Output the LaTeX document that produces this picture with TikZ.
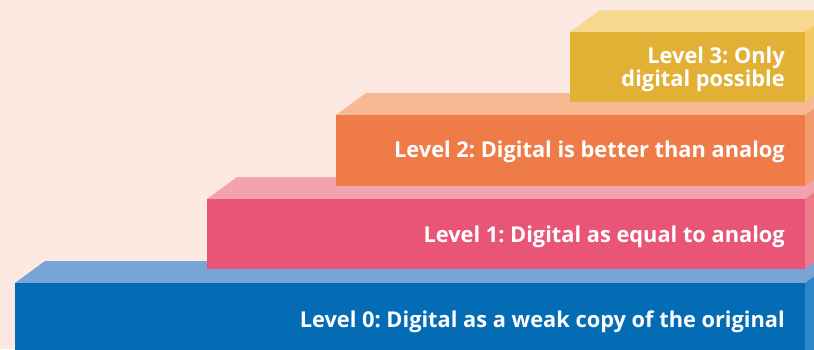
\documentclass[tikz,border=0pt]{standalone}
\usepackage{fontspec}
\setmainfont{Open Sans}
\frenchspacing
\definecolor{bg}{HTML}{FCE9E1}
\definecolor{zf}{HTML}{046BB5}\definecolor{zt}{HTML}{78A4D6}\definecolor{zs}{HTML}{2F86CB}
\definecolor{of}{HTML}{E95576}\definecolor{ot}{HTML}{F3A3AD}\definecolor{os}{HTML}{EE7A8A}
\definecolor{tf}{HTML}{EF7C48}\definecolor{tt}{HTML}{F8B891}\definecolor{ts}{HTML}{F39A6E}
\definecolor{hf}{HTML}{E1B035}\definecolor{ht}{HTML}{F6D88F}\definecolor{hs}{HTML}{F4C961}
\newcommand{\stairblock}[6]{%
  % #1 left x, #2 front top y, #3 front bottom y, #4 front, #5 top, #6 side
  \fill[#5] (#1,#2) -- ++(30,-22) -- (835,#2-22) -- (805,#2) -- cycle;
  \fill[#6] (805,#2) -- (835,#2-22) -- (835,#3-22) -- (805,#3) -- cycle;
  \fill[#4] (#1,#2) rectangle (805,#3);
}
\tikzset{lbl/.style={anchor=east, text=white, font=\bfseries\fontsize{21.8}{23}\selectfont, align=right, inner sep=0pt}}
\begin{document}
\begin{tikzpicture}[x=1pt,y=-1pt]
\useasboundingbox (0,0) rectangle (814,349);
\clip (0,0) rectangle (814,349);
\fill[bg] (0,0) rectangle (814,349);
\stairblock{15}{283}{380}{zf}{zt}{zs}
\stairblock{207}{199}{269}{of}{ot}{os}
\stairblock{336}{115}{186}{tf}{tt}{ts}
\stairblock{570}{32}{102}{hf}{ht}{hs}
\node[lbl] (l0) at (785,322) {Level 0: Digital as a weak copy of the original};
\node[lbl] (l1) at (785,237) {Level 1: Digital as equal to analog};
\node[lbl] (l2) at (785,152) {Level 2: Digital is better than analog};
\node[lbl] (l3) at (785,69) {Level 3: Only\\digital possible};
\end{tikzpicture}
\end{document}
